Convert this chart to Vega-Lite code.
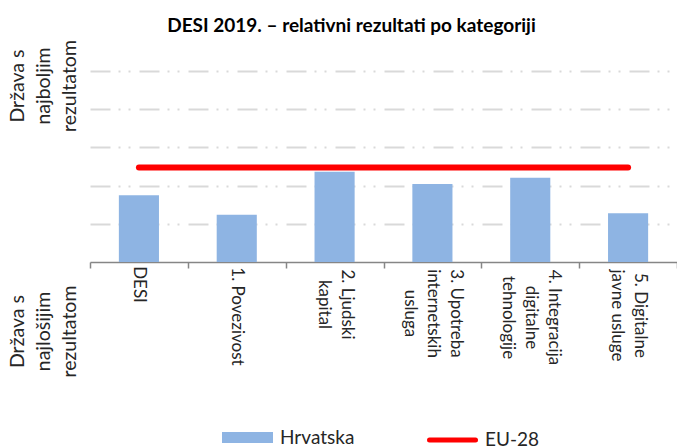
{
  "$schema": "https://vega.github.io/schema/vega-lite/v6.json",
  "width": 587,
  "height": 191,
  "autosize": {"type": "none"},
  "padding": {"left": 90, "top": 71, "right": 0, "bottom": 186},
  "background": "white",
  "config": {
    "font": "Lato",
    "view": {"stroke": null}
  },
  "title": {
    "text": "DESI 2019. – relativni rezultati po kategoriji",
    "font": "Lato",
    "fontSize": 19,
    "fontWeight": "bold",
    "color": "#000000",
    "anchor": "middle",
    "frame": "group",
    "baseline": "alphabetic",
    "offset": 7,
    "dx": -32,
    "dy": 18
  },
  "data": {
    "values": [
      {"kategorija": "DESI", "oznaka": "DESI", "hr": 34.9, "eu": 49.5},
      {"kategorija": "1. Povezivost", "oznaka": "1. Povezivost", "hr": 24.8, "eu": 49.5},
      {"kategorija": "2. Ljudski kapital", "oznaka": "2. Ljudski|kapital", "hr": 47.3, "eu": 49.5},
      {"kategorija": "3. Upotreba internetskih usluga", "oznaka": "3. Upotreba|internetskih|usluga", "hr": 40.8, "eu": 49.5},
      {"kategorija": "4. Integracija digitalne tehnologije", "oznaka": "4. Integracija|digitalne|tehnologije", "hr": 44.1, "eu": 49.5},
      {"kategorija": "5. Digitalne javne usluge", "oznaka": "5. Digitalne|javne usluge", "hr": 25.5, "eu": 49.5}
    ]
  },
  "encoding": {
    "x": {
      "field": "oznaka",
      "type": "nominal",
      "sort": null,
      "scale": {"paddingInner": 0, "paddingOuter": 0},
      "axis": {
        "title": ["Država s", "najlošijim", "rezultatom"],
        "titleAngle": -90,
        "titleAlign": "center",
        "titleBaseline": "top",
        "titleX": -82,
        "titleY": 69,
        "titleFont": "Lato",
        "titleFontSize": 19.5,
        "titleFontWeight": "normal",
        "titleColor": "#262626",
        "titleLineHeight": 26,
        "labelExpr": "split(datum.label, '|')",
        "labelAngle": 90,
        "labelAlign": "center",
        "labelBaseline": "middle",
        "labelFont": "Lato",
        "labelFontSize": 17,
        "labelLineHeight": 23,
        "labelColor": "#262626",
        "labelPadding": {
          "condition": [
            {"test": "datum.value === 'DESI'", "value": 16},
            {"test": "datum.value === '1. Povezivost'", "value": 48},
            {"test": "datum.value === '2. Ljudski|kapital'", "value": 36},
            {"test": "datum.value === '3. Upotreba|internetskih|usluga'", "value": 45},
            {"test": "datum.value === '4. Integracija|digitalne|tehnologije'", "value": 49}
          ],
          "value": 47
        },
        "labelOffset": {
          "condition": [
            {"test": "datum.value === 'DESI' || datum.value === '1. Povezivost'", "value": 0},
            {"test": "datum.value === '2. Ljudski|kapital' || datum.value === '5. Digitalne|javne usluge'", "value": 11.5}
          ],
          "value": 23
        },
        "labelBound": false,
        "labelOverlap": false,
        "tickBand": "extent",
        "tickSize": 6,
        "tickColor": "#868686",
        "tickWidth": 1.5,
        "domainColor": "#868686",
        "domainWidth": 1.5,
        "grid": false
      }
    }
  },
  "layer": [
    {
      "mark": {"type": "bar", "width": {"band": 0.41}},
      "encoding": {
        "y": {
          "field": "hr",
          "type": "quantitative",
          "scale": {"domain": [0, 100], "nice": false},
          "axis": {
            "values": [20, 40, 60, 80, 100],
            "labels": false,
            "ticks": false,
            "domain": false,
            "grid": true,
            "gridColor": "#d9d9d9",
            "gridWidth": 2,
            "gridDash": [20, 8, 2, 8, 2, 9],
            "title": ["Država s", "najboljim", "rezultatom"],
            "titleAngle": -90,
            "titleAlign": "center",
            "titleBaseline": "top",
            "titleX": -82,
            "titleY": 14.5,
            "titleFont": "Lato",
            "titleFontSize": 19.5,
            "titleFontWeight": "normal",
            "titleColor": "#262626",
            "titleLineHeight": 26
          }
        },
        "fill": {
          "datum": "Hrvatska",
          "type": "nominal",
          "scale": {"domain": ["Hrvatska"], "range": ["#8EB4E3"]},
          "legend": {
            "title": null,
            "orient": "none",
            "legendX": 132,
            "legendY": 341,
            "padding": 0,
            "symbolType": "M-1,-0.22H1V0.22H-1Z",
            "symbolSize": 2601,
            "symbolStrokeWidth": 0,
            "labelFont": "Lato",
            "labelFontSize": 19,
            "labelColor": "#262626",
            "labelOffset": 7
          }
        }
      }
    },
    {
      "mark": {"type": "line", "strokeWidth": 6, "strokeCap": "round"},
      "encoding": {
        "y": {"field": "eu", "type": "quantitative"},
        "stroke": {
          "datum": "EU-28",
          "type": "nominal",
          "scale": {"domain": ["EU-28"], "range": ["#FF0000"]},
          "legend": {
            "title": null,
            "orient": "none",
            "legendX": 337,
            "legendY": 343.5,
            "padding": 0,
            "symbolType": "stroke",
            "symbolSize": 2116,
            "symbolStrokeWidth": 5,
            "labelFont": "Lato",
            "labelFontSize": 19,
            "labelColor": "#262626",
            "labelOffset": 7,
            "encode": {"symbols": {"update": {"strokeCap": {"value": "round"}}}}
          }
        }
      }
    }
  ]
}
